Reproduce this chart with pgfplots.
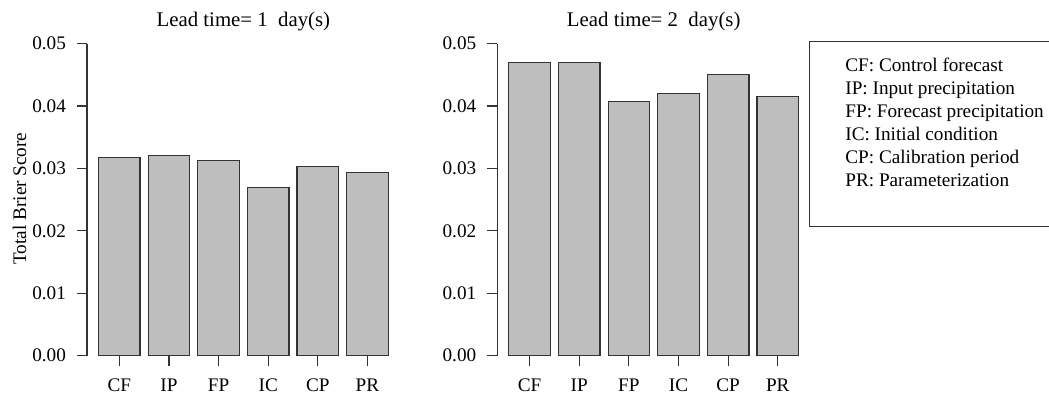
\documentclass[border=0pt]{standalone}
\usepackage{fontspec}
\setmainfont{Liberation Serif}
\usepackage{pgfplots}
\pgfplotsset{compat=1.18}
\definecolor{bargray}{HTML}{BEBEBE}
\definecolor{linegray}{HTML}{333333}
\begin{document}
\begin{tikzpicture}[x=0.5pt,y=-0.5pt]
\useasboundingbox (0,0) rectangle (1049,396);
\pgfplotsset{
 brier/.style={
  scale only axis, width=156.4pt, height=156.1pt,
  xmin=-0.651, xmax=5.651, ymin=0, ymax=0.05,
  axis y line*=left, axis x line*=bottom,
  x axis line style={draw=none},
  y axis line style={-, line width=0.6pt, linegray},
  tick align=outside, major tick length=5pt,
  tick style={line width=0.6pt, linegray},
  xtick={0,1,2,3,4,5}, xticklabels={CF,IP,FP,IC,CP,PR},
  ytick={0,0.01,0.02,0.03,0.04,0.05},
  scaled y ticks=false,
  /pgf/number format/.cd, fixed, fixed zerofill, precision=2, assume math mode=true, /pgfplots/.cd,
  xticklabel style={yshift=-3pt},
  yticklabel style={xshift=-2pt},
  tick label style={font=\fontsize{9.6}{11.5}\selectfont},
  ybar, bar width=0.837,
  clip=false,
 }
}
\pgfplotstableread{
x y
0 0.03168
1 0.03205
2 0.03125
3 0.0270
4 0.03035
5 0.02939
}\leadone
\pgfplotstableread{
x y
0 0.04702
1 0.0469
2 0.04066
3 0.04205
4 0.0451
5 0.04146
}\leadtwo
\begin{axis}[brier, at={(43.5pt,-177.85pt)}, anchor=south west]
\addplot[fill=bargray, draw=linegray, line width=0.6pt] table[x=x,y=y] {\leadone};
\end{axis}
\begin{axis}[brier, at={(248.65pt,-177.85pt)}, anchor=south west]
\addplot[fill=bargray, draw=linegray, line width=0.6pt] table[x=x,y=y] {\leadtwo};
\end{axis}
\node[anchor=base, font=\fontsize{10.4}{12}\selectfont, inner sep=0pt] at (243.4,26.7) {Lead time= 1\ \ day(s)};
\node[anchor=base, font=\fontsize{10.4}{12}\selectfont, inner sep=0pt] at (653.7,26.7) {Lead time= 2\ \ day(s)};
\node[rotate=90, font=\fontsize{9.6}{11.5}\selectfont, inner sep=0pt] at (19.5,198.5) {Total Brier Score};
\draw[line width=0.6pt, linegray] (1049,41.7) -- (809.3,41.7) -- (809.3,226.7) -- (1049,226.7);
\begin{scope}[every node/.style={anchor=base west, inner sep=0pt, font=\fontsize{9.6}{11.5}\selectfont}]
\node at (845,71.7) {CF: Control forecast};
\node at (845,94.7) {IP: Input precipitation};
\node at (845,117.7) {FP: Forecast precipitation};
\node at (845,140.7) {IC: Initial condition};
\node at (845,163.7) {CP: Calibration period};
\node at (845,186.7) {PR: Parameterization};
\end{scope}
\end{tikzpicture}
\end{document}
